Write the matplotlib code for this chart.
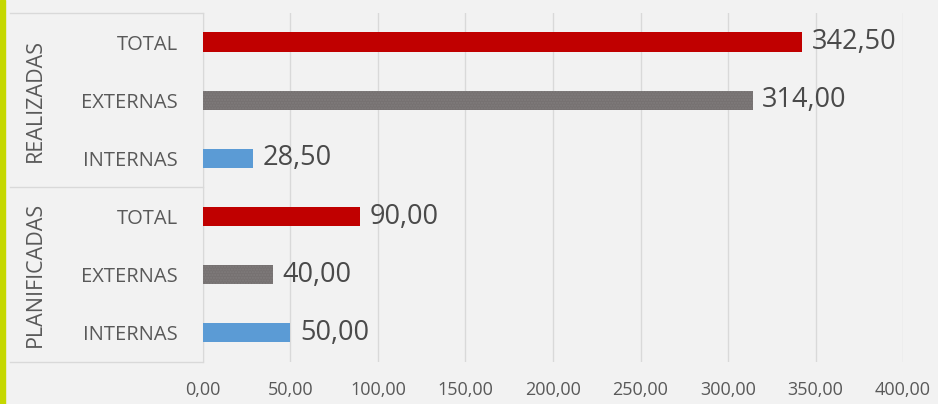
import matplotlib.pyplot as plt
from matplotlib.lines import Line2D
from matplotlib.patches import Rectangle

# datos (de abajo hacia arriba)
groups = ['PLANIFICADAS', 'REALIZADAS']
cats = ['INTERNAS', 'EXTERNAS', 'TOTAL']
planificadas = [50.00, 40.00, 90.00]
realizadas = [28.50, 314.00, 342.50]
colores = ['#5b9bd5', '#767171', '#c00000']
xticks = [0, 50, 100, 150, 200, 250, 300, 350, 400]

plt.rcParams['font.family'] = ['Open Sans', 'DejaVu Sans']

fig = plt.figure(figsize=(9.38, 4.04), dpi=100, facecolor='#f2f2f2')
ax = fig.add_axes([0.2164, 0.104, 0.7463, 0.864])
ax.set_facecolor('#f2f2f2')

valores = planificadas + realizadas
labels = cats + cats
cols = colores + colores
ypos = list(range(len(valores)))

for y, v, c in zip(ypos, valores, cols):
    if c == '#767171':
        ax.barh(y, v, height=0.33, color=c, edgecolor='#807c7c', hatch='......', linewidth=0, zorder=3)
    else:
        ax.barh(y, v, height=0.33, color=c, zorder=3)
    ax.text(v + 5.5, y, f'{v:.2f}'.replace('.', ','), va='center', ha='left',
            fontsize=19.5, color='#4a4a4a')

ax.set_xlim(0, 400)
ax.set_ylim(-0.5, len(valores) - 0.5)
ax.set_xticks(xticks)
ax.set_xticklabels([f'{t:.2f}'.replace('.', ',') for t in xticks], fontsize=13, color='#595959')
ax.set_yticks(ypos)
ax.set_yticklabels(labels, fontsize=14.5, color='#595959')
ax.tick_params(axis='both', length=0)
ax.tick_params(axis='x', pad=14)
ax.tick_params(axis='y', pad=18)
ax.grid(axis='x', color='#d9d9d9', linewidth=1, zorder=0)
for s in ['top', 'right', 'bottom']:
    ax.spines[s].set_visible(False)
ax.spines['left'].set_color('#d9d9d9')

# caja de categorias de grupo
x0 = 10 / 938
x1 = 203 / 938
for yy in [0.104, 0.104 + 0.864 / 2, 0.968]:
    fig.add_artist(Line2D([x0, x1], [yy, yy], color='#d9d9d9', linewidth=1))
for i, g in enumerate(groups):
    yc = 0.104 + 0.864 * (0.25 + 0.5 * i)
    fig.text(35 / 938, yc, g, rotation=90, ha='center', va='center', fontsize=15.5, color='#595959')

# borde izquierdo verde
fig.add_artist(Rectangle((0, 0), 5 / 938, 1, color='#c5d800', transform=fig.transFigure))

fig.savefig('out.png', dpi=100, facecolor=fig.get_facecolor())
